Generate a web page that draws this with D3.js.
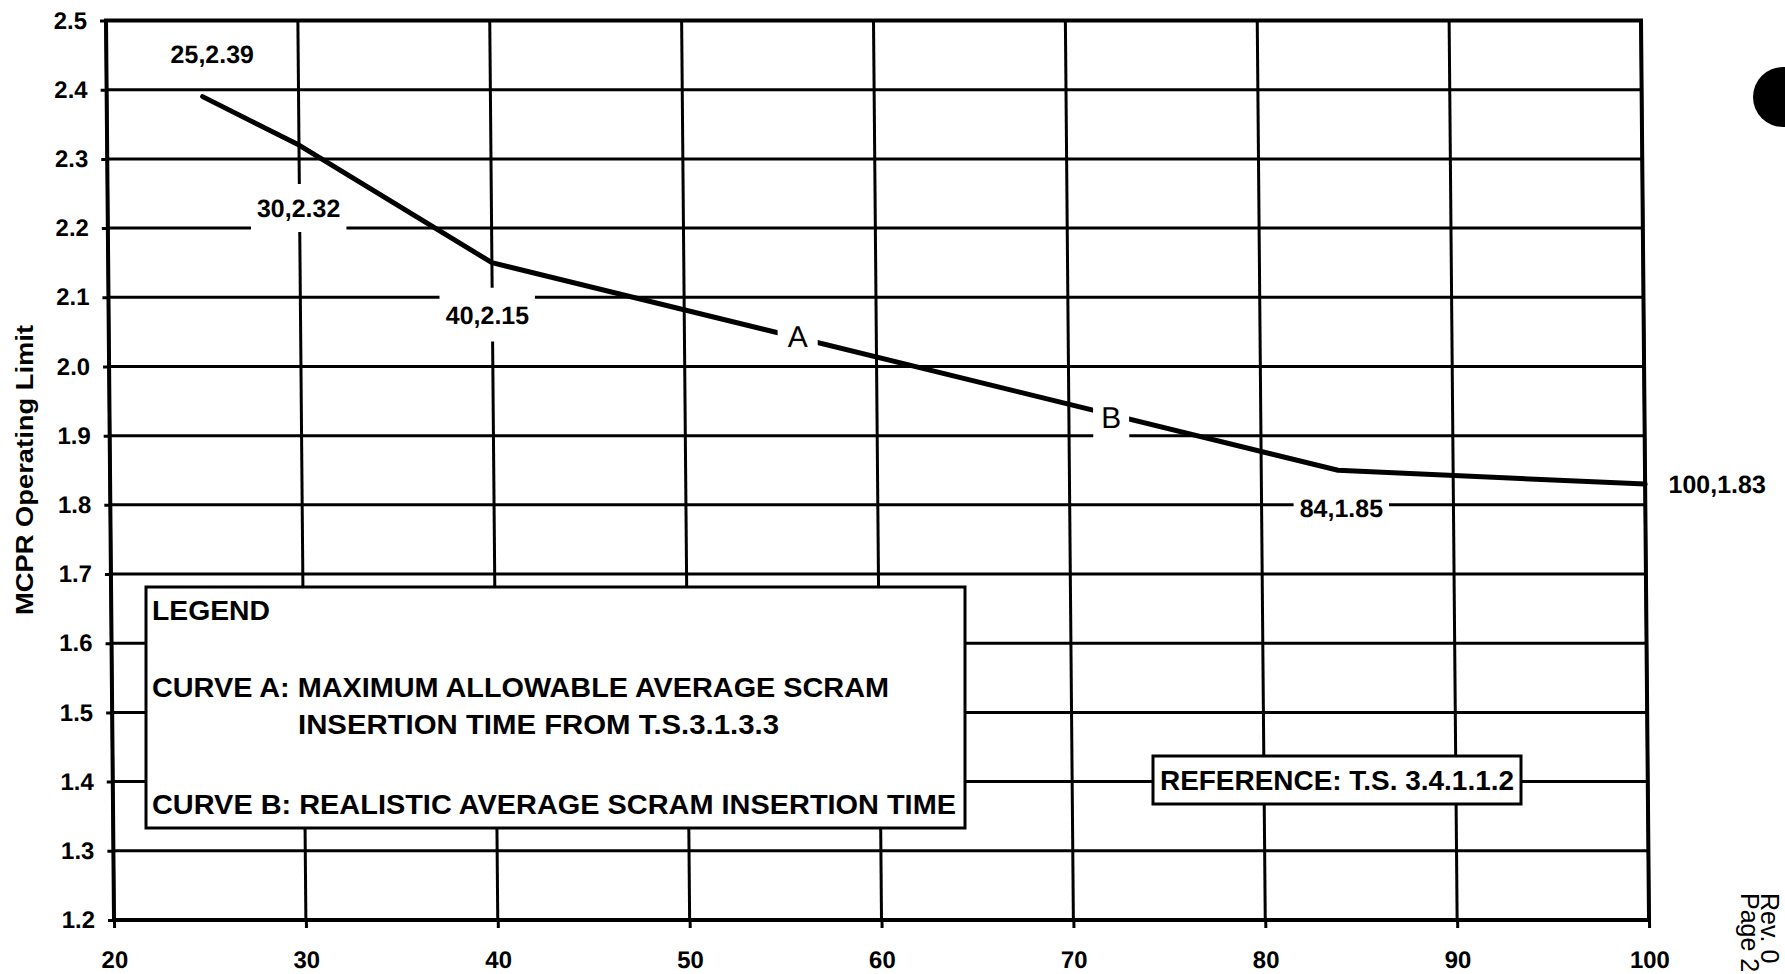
<!DOCTYPE html>
<html><head><meta charset="utf-8">
<script src="https://cdn.jsdelivr.net/npm/d3@7"></script>
<style>
html,body{margin:0;padding:0;background:#fff;}
svg{display:block;background:#fff;}
text{font-family:"Liberation Sans", Arial, Helvetica, sans-serif;fill:#000;}
</style></head><body>
<svg id="chart" width="1785" height="974"></svg>
<script>
// ---------- data ----------
const xTicks = [20, 30, 40, 50, 60, 70, 80, 90, 100];
const yTicks = [1.2, 1.3, 1.4, 1.5, 1.6, 1.7, 1.8, 1.9, 2.0, 2.1, 2.2, 2.3, 2.4, 2.5];
const yTickLabels = ["1.2","1.3","1.4","1.5","1.6","1.7","1.8","1.9","2.0","2.1","2.2","2.3","2.4","2.5"];
const curveX = [25, 30, 40, 84, 100];
const curveY = [2.39, 2.32, 2.15, 1.85, 1.83];
const pointLabels = ["25,2.39", "30,2.32", "40,2.15", "84,1.85", "100,1.83"];
const curveMarks = ["A", "B"];
const curveMarkX = [55.9, 72.2];
const curveMarkY = [2.043, 1.926];
const legendLines = ["LEGEND",
  "CURVE A: MAXIMUM ALLOWABLE AVERAGE SCRAM",
  "INSERTION TIME FROM T.S.3.1.3.3",
  "CURVE B: REALISTIC AVERAGE SCRAM INSERTION TIME"];
const referenceText = "REFERENCE: T.S. 3.4.1.1.2";
const yTitle = "MCPR Operating Limit";
const pageNote = ["Rev. 0", "Page 2"];

// ---------- layout ----------
const W = 1785, H = 974;
const plot = {left: 106, right: 1641, top: 20.5, bottom: 920};
const skewDeg = 0.51;

const svg = d3.select("#chart");
svg.append("rect").attr("width", W).attr("height", H).attr("fill", "#fff");

const x = d3.scaleLinear().domain([20, 100]).range([plot.left, plot.right]);
const y = d3.scaleLinear().domain([1.2, 2.5]).range([plot.bottom, plot.top]);

const g = svg.append("g")
  .attr("transform", `translate(0,${plot.top}) skewX(${skewDeg}) translate(0,${-plot.top})`);

// gridlines
g.append("g").selectAll("line").data(yTicks).join("line")
  .attr("x1", plot.left).attr("x2", plot.right)
  .attr("y1", d => y(d)).attr("y2", d => y(d))
  .attr("stroke", "#000").attr("stroke-width", 3);
g.append("g").selectAll("line").data(xTicks).join("line")
  .attr("x1", d => x(d)).attr("x2", d => x(d))
  .attr("y1", plot.top).attr("y2", plot.bottom)
  .attr("stroke", "#000").attr("stroke-width", 3);
g.append("rect")
  .attr("x", plot.left).attr("y", plot.top)
  .attr("width", plot.right - plot.left).attr("height", plot.bottom - plot.top)
  .attr("fill", "none").attr("stroke", "#000").attr("stroke-width", 4);

// axes
const xAxis = g.append("g").attr("transform", `translate(0,${plot.bottom})`)
  .call(d3.axisBottom(x).tickValues(xTicks).tickFormat(d3.format("d")).tickSize(8).tickPadding(23));
const yAxis = g.append("g").attr("transform", `translate(${plot.left},0)`)
  .call(d3.axisLeft(y).tickValues(yTicks).tickFormat((d, i) => yTickLabels[i]).tickSize(6).tickPadding(13));
[xAxis, yAxis].forEach(a => {
  a.select(".domain").remove();
  a.selectAll(".tick line").attr("stroke", "#000").attr("stroke-width", 3);
  a.selectAll(".tick text").attr("font-size", 24).attr("font-weight", "bold")
    .style("font-family", '"Liberation Sans", Arial, sans-serif').attr("fill", "#000");
});

// curve
const pts = curveX.map((v, i) => [v, curveY[i]]);
g.append("path").datum(pts)
  .attr("d", d3.line().x(d => x(d[0])).y(d => y(d[1])))
  .attr("fill", "none").attr("stroke", "#000").attr("stroke-width", 5)
  .attr("stroke-linejoin", "round").attr("stroke-linecap", "round");

// labels with white knock-out backgrounds
function knockLabel(cx, cy, txt, fs, weight, padX, padY, withBg) {
  const t = g.append("text").attr("x", cx).attr("y", cy + 0.358 * fs)
    .attr("text-anchor", "middle").attr("font-size", fs).attr("font-weight", weight).text(txt);
  if (withBg) {
    const w = t.node().getComputedTextLength();
    const ch = 0.716 * fs;
    g.insert("rect", () => t.node())
      .attr("x", cx - w / 2 - padX).attr("y", cy - ch / 2 - padY)
      .attr("width", w + 2 * padX).attr("height", ch + 2 * padY)
      .attr("fill", "#fff");
  }
}
const pointLabelOffsets = [[10, -43], [-1, 63], [-5, 52], [3, 38], [72, 0]];
const pointLabelPads = [[0, 0, false], [6, 15, true], [6, 18, true], [6, 9, true], [0, 0, false]];
pointLabels.forEach((s, i) => {
  const [dx, dy] = pointLabelOffsets[i];
  const [px, py, bg] = pointLabelPads[i];
  knockLabel(x(curveX[i]) + dx, y(curveY[i]) + dy, s, 25, "bold", px, py, bg);
});
const markPads = [[10, 8], [8, 10]];
curveMarks.forEach((s, i) => {
  knockLabel(x(curveMarkX[i]), y(curveMarkY[i]), s, 30, "normal", markPads[i][0], markPads[i][1], true);
});

// legend box
const lg = svg.append("g");
lg.append("rect").attr("x", 146).attr("y", 587).attr("width", 819).attr("height", 241)
  .attr("fill", "#fff").attr("stroke", "#000").attr("stroke-width", 3);
const legendPos = [[152, 620, 118], [152, 697, 737], [298, 734, 481], [152, 814, 804]];
legendLines.forEach((s, i) => {
  lg.append("text").attr("x", legendPos[i][0]).attr("y", legendPos[i][1])
    .attr("font-size", 27).attr("font-weight", "bold")
    .attr("textLength", legendPos[i][2]).attr("lengthAdjust", "spacingAndGlyphs").text(s);
});

// reference box
const rg = svg.append("g");
rg.append("rect").attr("x", 1153).attr("y", 756).attr("width", 368).attr("height", 48)
  .attr("fill", "#fff").attr("stroke", "#000").attr("stroke-width", 3);
rg.append("text").attr("x", 1160).attr("y", 790).attr("font-size", 28).attr("font-weight", "bold")
  .attr("textLength", 354).attr("lengthAdjust", "spacingAndGlyphs").text(referenceText);

// y axis title
svg.append("text").attr("transform", "translate(33,470) rotate(-90)")
  .attr("text-anchor", "middle").attr("font-size", 23).attr("font-weight", "bold")
  .attr("textLength", 290).attr("lengthAdjust", "spacingAndGlyphs").text(yTitle);

// page note (rotated, near right edge)
pageNote.forEach((s, i) => {
  svg.append("text").attr("transform", `translate(${1761 - i * 20},893) rotate(90)`)
    .attr("font-size", 25).text(s);
});

// punch-hole blob
svg.append("circle").attr("cx", 1783).attr("cy", 97).attr("r", 30).attr("fill", "#000");
</script>
</body></html>
